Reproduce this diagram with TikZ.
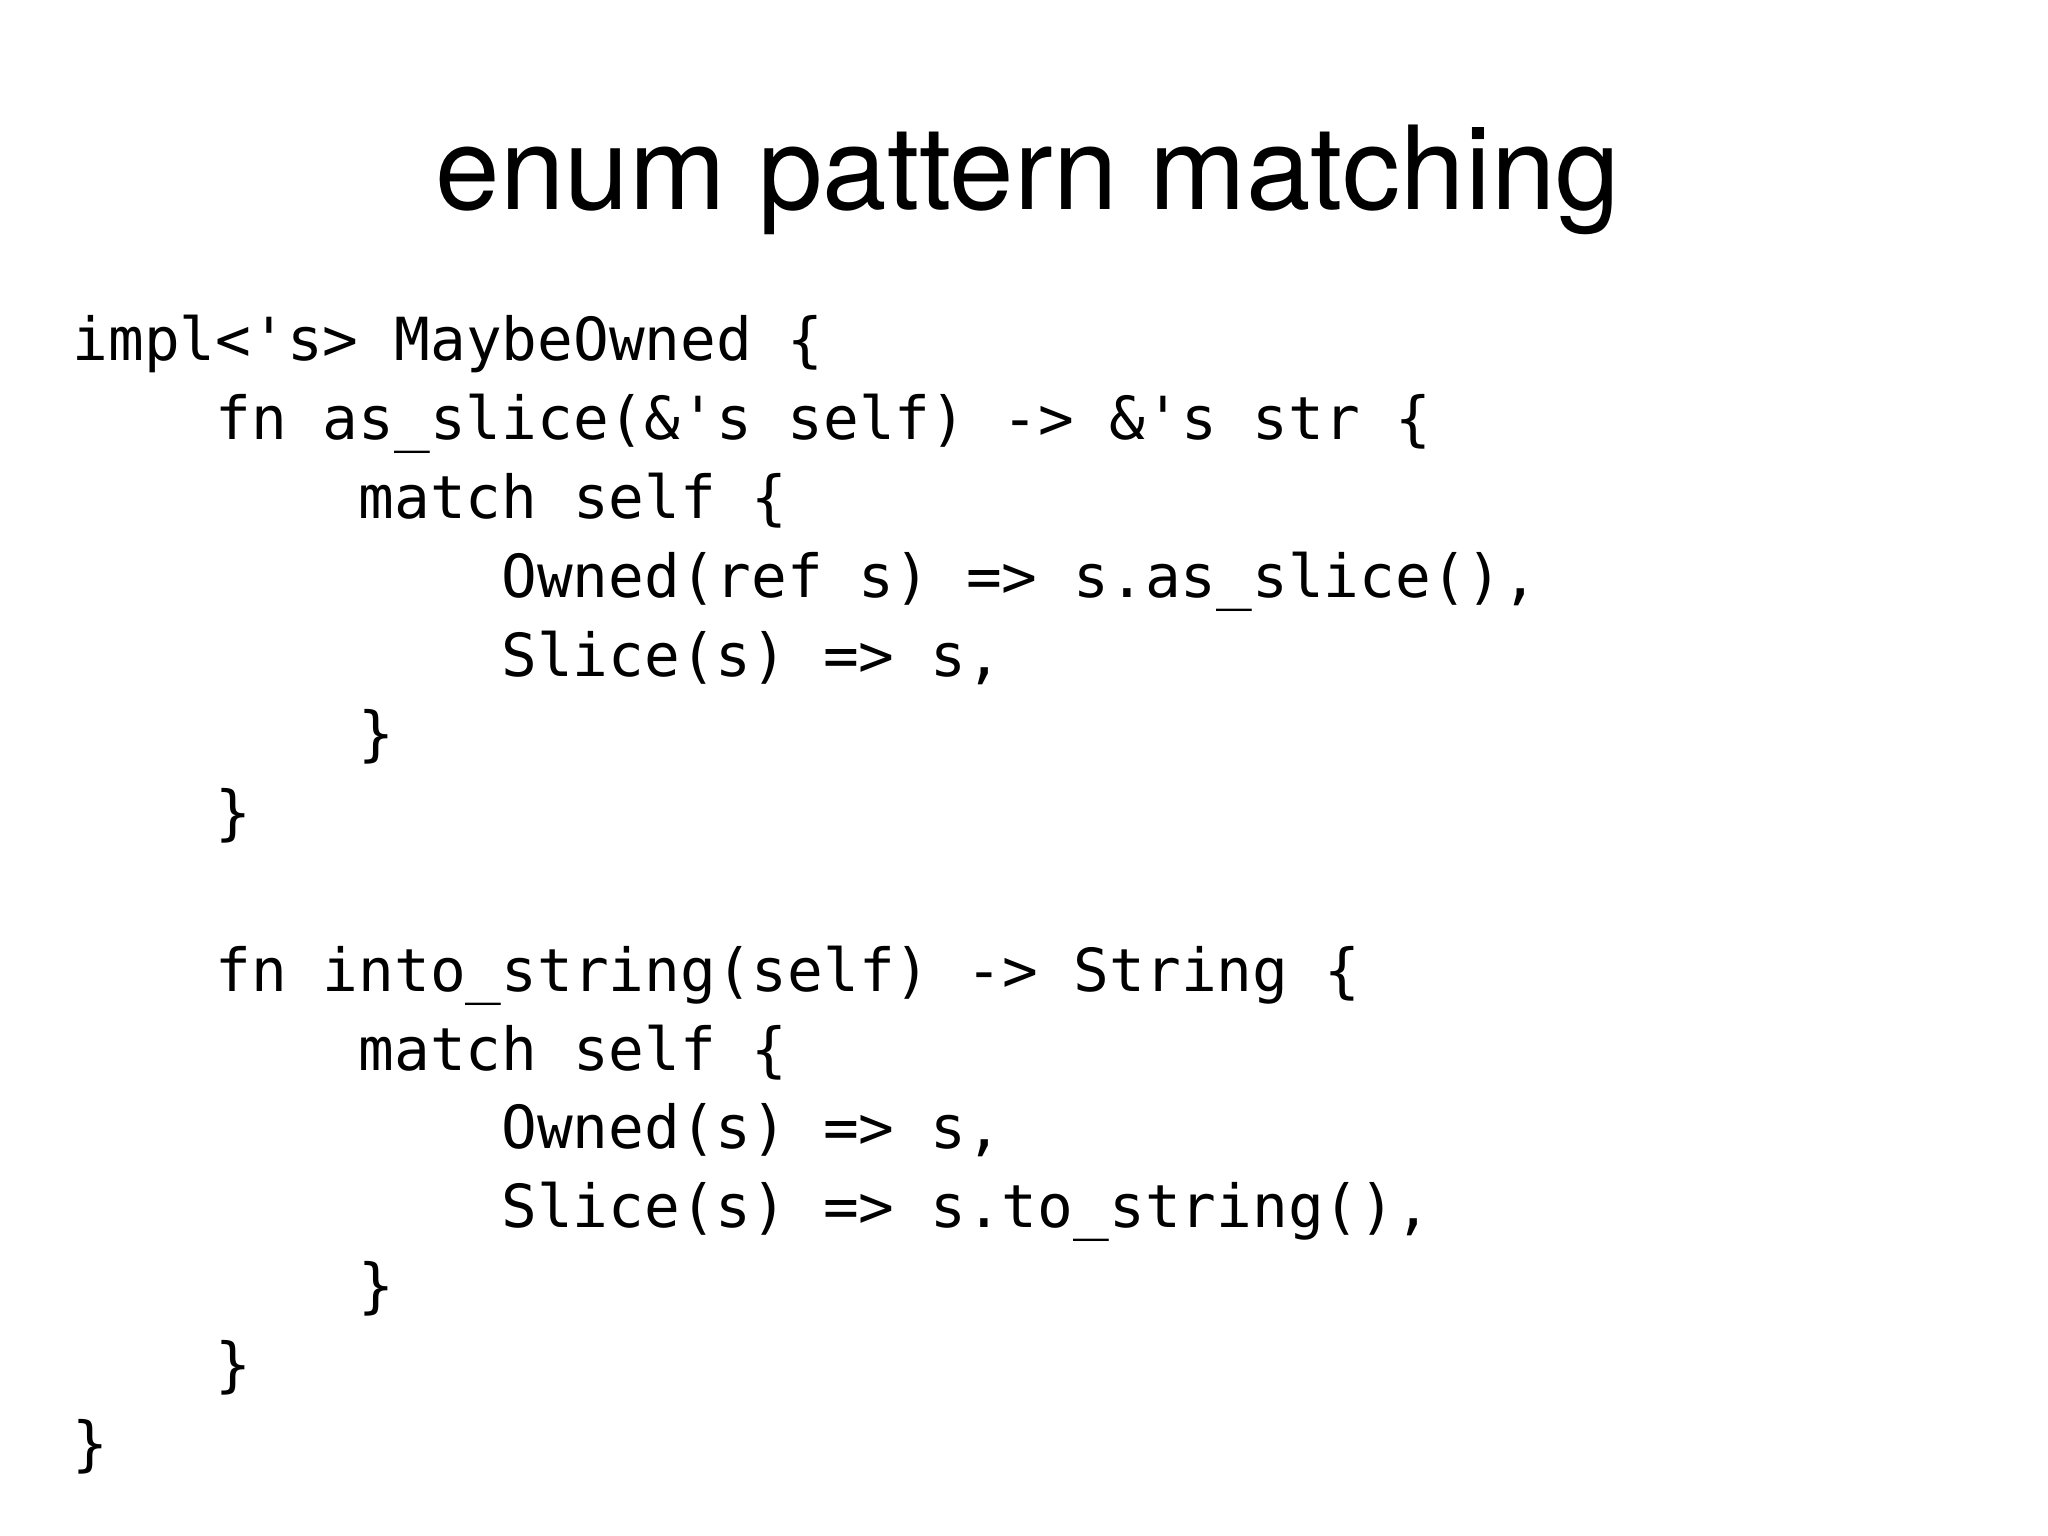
\documentclass[tikz,border=0pt]{standalone}
\usepackage{fontspec}
\setmainfont{Liberation Sans}
\newfontfamily\codefont{DejaVu Sans Mono}
\newfontfamily\titlefont{TeX Gyre Heros}
\begin{document}
\begin{tikzpicture}[x=1cm,y=1cm,
  code/.style={anchor=base west,inner sep=0pt,font=\codefont\fontsize{16.9}{20}\selectfont},
  ttl/.style={anchor=base,inner sep=0pt,font=\titlefont\fontsize{33}{40}\selectfont}]
\useasboundingbox (0,0) rectangle (20.48,-15.36);
\fill[white] (0,0) rectangle (20.48,-15.36);
\node[ttl] (title) at (10.28,-2.10) {enum pattern matching};
\def\lh{0.788}
\def\cw{1.429}
\node[code] (l1) at (0.72,-3.61) {impl<'s> MaybeOwned \{};
\node[code] (l2) at (0.72+\cw,-3.61-1*\lh) {fn as\_slice(\&'s self) -> \&'s str \{};
\node[code] (l3) at (0.72+2*\cw,-3.61-2*\lh) {match self \{};
\node[code] (l4) at (0.72+3*\cw,-3.61-3*\lh) {Owned(ref s) => s.as\_slice(),};
\node[code] (l5) at (0.72+3*\cw,-3.61-4*\lh) {Slice(s) => s,};
\node[code] (l6) at (0.72+2*\cw,-3.61-5*\lh) {\}};
\node[code] (l7) at (0.72+\cw,-3.61-6*\lh) {\}};
\node[code] (l9) at (0.72+\cw,-3.61-8*\lh) {fn into\_string(self) -> String \{};
\node[code] (l10) at (0.72+2*\cw,-3.61-9*\lh) {match self \{};
\node[code] (l11) at (0.72+3*\cw,-3.61-10*\lh) {Owned(s) => s,};
\node[code] (l12) at (0.72+3*\cw,-3.61-11*\lh) {Slice(s) => s.to\_string(),};
\node[code] (l13) at (0.72+2*\cw,-3.61-12*\lh) {\}};
\node[code] (l14) at (0.72+\cw,-3.61-13*\lh) {\}};
\node[code] (l15) at (0.72,-3.61-14*\lh) {\}};
\end{tikzpicture}
\end{document}
